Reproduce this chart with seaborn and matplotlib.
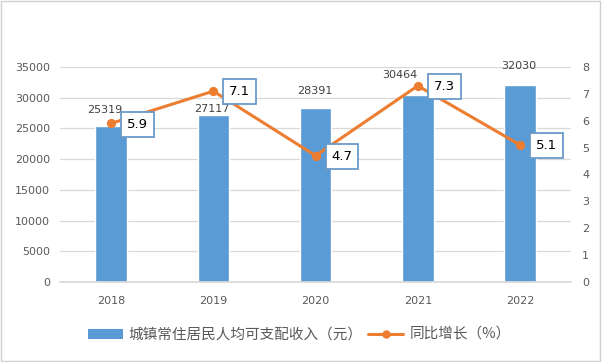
import pandas as pd
import numpy as np
import matplotlib
matplotlib.use('Agg')
import matplotlib.pyplot as plt
import seaborn as sns
from matplotlib.patches import Rectangle, Patch
from matplotlib.lines import Line2D

years = ['2018', '2019', '2020', '2021', '2022']
income = [25319, 27117, 28391, 30464, 32030]
growth = [5.9, 7.1, 4.7, 7.3, 5.1]

bar_color = '#5B9BD5'
line_color = '#ED7D31'
grid_color = '#D9D9D9'
text_color = '#595959'

sns.set_theme(style='white')
plt.rcParams['font.family'] = ['DejaVu Sans', 'Noto Sans CJK SC']

df = pd.DataFrame({'year': years, 'income': income, 'growth': growth})

fig = plt.figure(figsize=(6.02, 3.62), dpi=100)
ax = fig.add_axes([0.0997, 0.221, 0.849, 0.594])

sns.barplot(data=df, x='year', y='income', color=bar_color, width=0.31,
            saturation=1, ax=ax, zorder=2)
ax.set_ylim(0, 35000)
ax.set_yticks(np.arange(0, 35001, 5000))
ax.yaxis.grid(True, color=grid_color, linewidth=0.9, zorder=0)
ax.set_axisbelow(True)
ax.set_xlabel('')
ax.set_ylabel('')
for s in ['top', 'left', 'right']:
    ax.spines[s].set_visible(False)
ax.spines['bottom'].set_color(grid_color)
ax.tick_params(axis='y', length=0, labelsize=8, colors=text_color, pad=7)
ax.tick_params(axis='x', length=0, labelsize=8, colors=text_color, pad=10)

# bar value labels, nudged like the original layout (offsets in points)
nudge_x = [-4.3, -1.4, -0.7, -13, -0.7]
nudge_y = [12.2, 4.3, 12.2, 14.4, 13.7]
for i, v in enumerate(income):
    ax.annotate(str(v), (i, v), xytext=(nudge_x[i], nudge_y[i]),
                textcoords='offset points', ha='center', va='center',
                fontsize=8, color='#404040')

ax2 = ax.twinx()
sns.pointplot(data=df, x='year', y='growth', color=line_color, ax=ax2,
              markers='o', linewidth=2.2, markersize=5)
ax2.set_ylim(0, 8)
ax2.set_yticks(range(0, 9))
ax2.set_xlim(-0.5, 4.5)
ax.set_xlim(-0.5, 4.5)
ax2.set_ylabel('')
ax2.set_xlabel('')
for s in ['top', 'left', 'right', 'bottom']:
    ax2.spines[s].set_visible(False)
ax2.tick_params(axis='y', length=0, labelsize=8, colors=text_color, pad=8)

for i, v in enumerate(growth):
    ax2.annotate(f'{v}', (i, v), xytext=(19, -0.5), textcoords='offset points',
                 ha='center', va='center', fontsize=9.5, color='black',
                 bbox=dict(boxstyle='square,pad=0.45', fc='white',
                           ec='#6A9AC8', lw=1.3), zorder=5)

handles = [Patch(facecolor=bar_color, edgecolor='none'),
           Line2D([0], [0], color=line_color, lw=2.2, marker='o', markersize=5)]
labels = ['城镇常住居民人均可支配收入（元）', '同比增长（%）']
leg = fig.legend(handles, labels, loc='center', bbox_to_anchor=(0.497, 0.075), ncol=2,
                 frameon=False, handlelength=2.4, columnspacing=0.4,
                 handletextpad=0.4, labelcolor=text_color,
                 prop={'family': ['Noto Sans CJK SC', 'DejaVu Sans'], 'size': 10.5})

fig.add_artist(Rectangle((0.002, 0.003), 0.995, 0.993, transform=fig.transFigure,
                         fill=False, ec='#D0D0D0', lw=1))

fig.savefig('out.png', dpi=100)
